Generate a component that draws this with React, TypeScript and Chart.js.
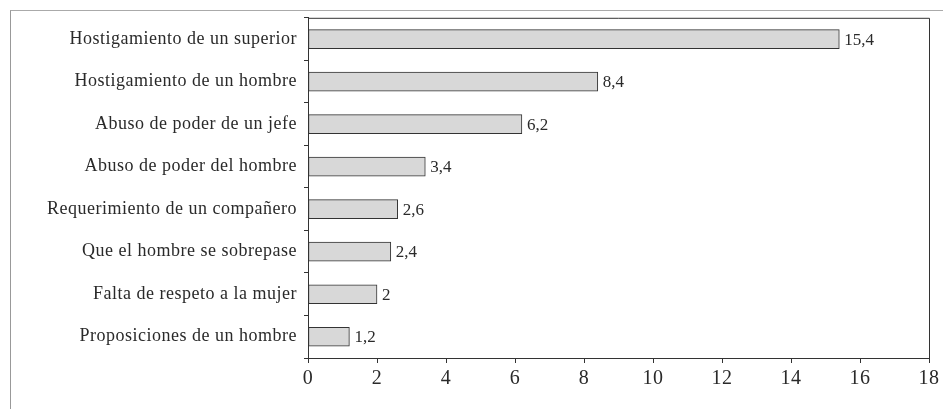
import React, { useEffect, useRef } from 'react';
import { Chart, registerables } from 'chart.js';

Chart.register(...registerables);

const categories = [
  'Hostigamiento de un superior',
  'Hostigamiento de un hombre',
  'Abuso de poder de un jefe',
  'Abuso de poder del hombre',
  'Requerimiento de un compañero',
  'Que el hombre se sobrepase',
  'Falta de respeto a la mujer',
  'Proposiciones de un hombre',
];
const values = [15.4, 8.4, 6.2, 3.4, 2.6, 2.4, 2, 1.2];
const xTicks = [0, 2, 4, 6, 8, 10, 12, 14, 16, 18];

const SERIF = '"Liberation Serif", "Times New Roman", serif';
const INK = '#2a2a2a';

const fmt = (v: number) => String(v).replace('.', ',');

const overlay = {
  id: 'overlay',
  beforeDraw(chart: any) {
    // the scanned type is set a little loose
    chart.ctx.letterSpacing = '0.5px';
  },
  beforeDatasetsDraw(chart: any) {
    chart.ctx.letterSpacing = '0px';
  },
  afterDatasetsDraw(chart: any) {
    const { ctx, chartArea: a } = chart;
    ctx.save();
    // top and right edges of the plot box
    ctx.strokeStyle = '#333';
    ctx.lineWidth = 1;
    ctx.beginPath();
    ctx.moveTo(a.left, a.top + 0.5);
    ctx.lineTo(a.right + 0.5, a.top + 0.5);
    ctx.lineTo(a.right + 0.5, a.bottom);
    ctx.stroke();
    // value labels
    ctx.font = `17px ${SERIF}`;
    ctx.fillStyle = INK;
    ctx.textBaseline = 'middle';
    chart.getDatasetMeta(0).data.forEach((bar: any, i: number) => {
      ctx.fillText(fmt(values[i]), bar.x + 5, bar.y + 1);
    });
    ctx.restore();
  },
};

const App: React.FC = () => {
  const canvasRef = useRef<HTMLCanvasElement>(null);
  const chartRef = useRef<Chart | null>(null);

  useEffect(() => {
    if (!canvasRef.current) return;
    if (chartRef.current) chartRef.current.destroy();

    chartRef.current = new Chart(canvasRef.current, {
      type: 'bar',
      data: {
        labels: categories,
        datasets: [{
          data: values,
          backgroundColor: '#d8d8d8',
          borderColor: '#333',
          borderWidth: 1,
          borderSkipped: false,
          barThickness: 19,
        }],
      },
      options: {
        indexAxis: 'y',
        animation: false,
        responsive: true,
        maintainAspectRatio: false,
        layout: { padding: { top: 17, right: 10, left: 0, bottom: 0 } },
        plugins: { legend: { display: false }, tooltip: { enabled: false } },
        scales: {
          x: {
            min: 0,
            max: 18,
            afterBuildTicks: (scale: any) => {
              scale.ticks = xTicks.map((v) => ({ value: v }));
            },
            afterFit: (scale: any) => { scale.height = 51; },
            grid: { drawOnChartArea: false, tickLength: 5, color: '#333' },
            border: { color: '#333', width: 1 },
            ticks: { color: INK, padding: 4, font: { family: SERIF, size: 20 } },
          },
          y: {
            afterFit: (scale: any) => { scale.width = 308; },
            grid: { drawOnChartArea: false, tickLength: 4, color: '#333', offset: true },
            border: { color: '#333', width: 1 },
            ticks: { color: INK, padding: 7, font: { family: SERIF, size: 18 } },
          },
        },
      },
      plugins: [overlay],
    });

    return () => {
      if (chartRef.current) {
        chartRef.current.destroy();
        chartRef.current = null;
      }
    };
  }, []);

  return (
    <div style={{ position: 'absolute', left: 0, top: 0, width: 943, height: 409, background: '#fff' }}>
      <div style={{ position: 'absolute', left: 10, top: 10, width: 940, height: 410, borderLeft: '1px solid #999', borderTop: '1px solid #aaa' }} />
      <div style={{ position: 'absolute', left: 0, top: 0, width: 943, height: 409 }}>
        <canvas ref={canvasRef} />
      </div>
    </div>
  );
};

export default App;
